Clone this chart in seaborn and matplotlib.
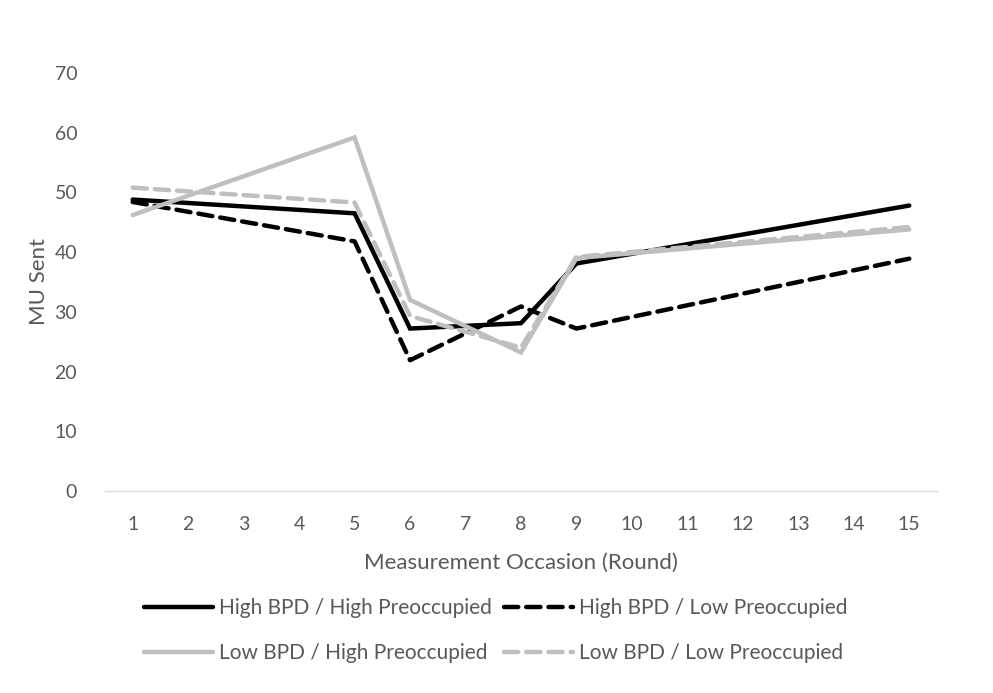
import matplotlib
matplotlib.use("Agg")
import matplotlib.pyplot as plt
import seaborn as sns
import pandas as pd

rounds = [1, 5, 6, 8, 9, 15]
high_bpd_high_pre = [48.8, 46.5, 27.2, 28.1, 38.1, 47.8]
high_bpd_low_pre = [48.4, 41.8, 21.9, 30.9, 27.2, 38.9]
low_bpd_high_pre = [46.2, 59.2, 32.0, 23.2, 39.0, 43.8]
low_bpd_low_pre = [50.8, 48.3, 29.3, 24.0, 39.2, 44.2]
series_names = ["High BPD / High Preoccupied", "High BPD / Low Preoccupied",
                "Low BPD / High Preoccupied", "Low BPD / Low Preoccupied"]
x_ticks = list(range(1, 16))
y_ticks = [0, 10, 20, 30, 40, 50, 60, 70]

rows = []
for name, vals in zip(series_names, [high_bpd_high_pre, high_bpd_low_pre,
                                     low_bpd_high_pre, low_bpd_low_pre]):
    for r, v in zip(rounds, vals):
        rows.append({"Round": r, "MU Sent": v, "Group": name})
df = pd.DataFrame(rows)

sns.set_theme(style="white")
plt.rcParams['font.family'] = ['Lato', 'DejaVu Sans']

fig = plt.figure(figsize=(9.93, 6.93), dpi=100)
ax = fig.add_axes([0.1057, 0.2915, 0.8379, 0.6032])

palette = {series_names[0]: "#000000", series_names[1]: "#000000",
           series_names[2]: "#BFBFBF", series_names[3]: "#BFBFBF"}
dashes = {series_names[0]: "", series_names[1]: (3.2, 1.8),
          series_names[2]: "", series_names[3]: (3.2, 1.8)}

sns.lineplot(data=df, x="Round", y="MU Sent", hue="Group", style="Group",
             hue_order=series_names, style_order=series_names,
             palette=palette, dashes=dashes, linewidth=3.2, ax=ax, legend=True)

for line in ax.get_lines():
    line.set_solid_capstyle("round")
    line.set_dash_capstyle("round")
    line.set_solid_joinstyle("miter")

ax.set_xlim(0.5, 15.5)
ax.set_ylim(0, 70)
ax.set_xticks(x_ticks)
ax.set_yticks(y_ticks)
for s in ["top", "right", "left"]:
    ax.spines[s].set_visible(False)
ax.spines["bottom"].set_color("#D9D9D9")
ax.spines["bottom"].set_linewidth(1)
ax.tick_params(axis="both", length=0, labelsize=14, labelcolor="#595959")
ax.tick_params(axis="x", pad=18)
ax.tick_params(axis="y", pad=20)
ax.set_xlabel("Measurement Occasion (Round)", fontsize=16, color="#595959", labelpad=14)
ax.set_ylabel("MU Sent", fontsize=16, color="#595959", labelpad=4)
ax.grid(False)

handles, labels = ax.get_legend_handles_labels()
for h in handles:
    h.set_linewidth(3.2)
    h.set_dash_capstyle("round")
    h.set_solid_capstyle("round")
order = [0, 2, 1, 3]
ax.legend([handles[i] for i in order], [labels[i] for i in order],
          loc="upper center", bbox_to_anchor=(0.47, -0.212),
          ncol=2, frameon=False, fontsize=15, labelcolor="#595959",
          handlelength=3.3, handletextpad=0.3, columnspacing=0.6, labelspacing=1.2)

fig.savefig("out.png", dpi=100, facecolor="white")
